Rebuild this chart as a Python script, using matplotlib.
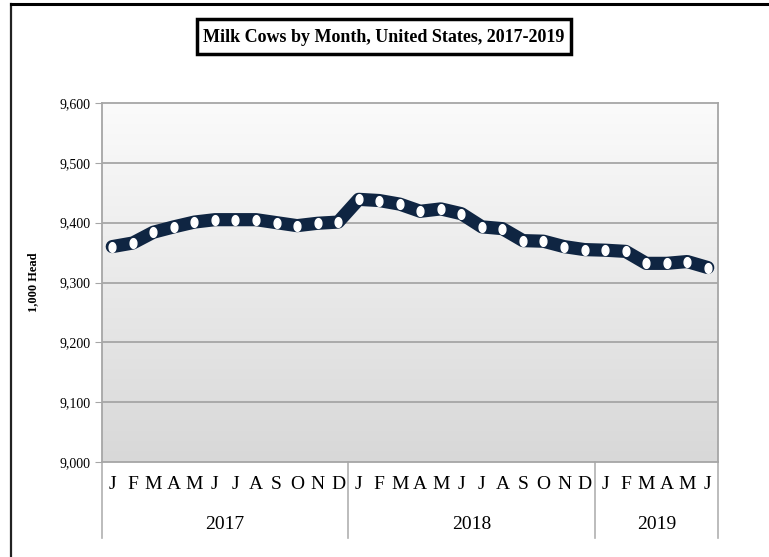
import numpy as np
import matplotlib.pyplot as plt
from matplotlib.lines import Line2D
from matplotlib.patches import Rectangle
import matplotlib.transforms as mtransforms

# dati: vacche da latte, migliaia di capi
months = ['J', 'F', 'M', 'A', 'M', 'J', 'J', 'A', 'S', 'O', 'N', 'D',
          'J', 'F', 'M', 'A', 'M', 'J', 'J', 'A', 'S', 'O', 'N', 'D',
          'J', 'F', 'M', 'A', 'M', 'J']
years = ['2017', '2018', '2019']
year_months = [12, 12, 6]
head = [9360, 9366, 9384, 9393, 9401, 9405, 9405, 9405, 9400, 9395, 9399, 9401,
        9439, 9437, 9431, 9419, 9423, 9415, 9393, 9390, 9370, 9369, 9360, 9355,
        9354, 9352, 9332, 9332, 9335, 9325]
yticks = [9000, 9100, 9200, 9300, 9400, 9500, 9600]

serif = ['Liberation Serif', 'DejaVu Serif']
navy = '#0f2542'
grid_col = '#a6a6a6'

fig = plt.figure(figsize=(7.69, 5.57), dpi=100)
ax = fig.add_axes([102 / 769, 1 - 462 / 557, 616 / 769, 359 / 557])

x = np.arange(len(head))

# sfondo sfumato
grad = np.linspace(0, 1, 256).reshape(-1, 1)
ax.imshow(grad, extent=[0, 1, 0, 1], transform=ax.transAxes, aspect='auto',
          cmap=plt.matplotlib.colors.LinearSegmentedColormap.from_list('g', ['#fbfbfb', '#d8d8d8']),
          zorder=0)

for yv in yticks[1:-1]:
    ax.axhline(yv, color=grid_col, lw=1.3, zorder=1)

# marker ellittico
t = np.linspace(0, 2 * np.pi, 40)
ell = np.column_stack([0.7 * np.cos(t), np.sin(t)])

ax.plot(x, head, color=navy, lw=9.5, solid_joinstyle='round', solid_capstyle='round', zorder=3)
ax.plot(x, head, ls='none', marker=ell, ms=7, mfc='white', mec='white', zorder=4)

ax.set_xlim(-0.5, len(head) - 0.5)
ax.set_ylim(9000, 9600)
ax.set_yticks(yticks)
ax.set_yticklabels([f'{v:,}' for v in yticks], fontfamily=serif, fontsize=10)
ax.tick_params(axis='y', length=5, color=grid_col, pad=3)
ax.set_xticks(x)
ax.set_xticklabels(months, fontfamily=serif, fontsize=14)
ax.tick_params(axis='x', length=0, pad=10)

for s in ax.spines.values():
    s.set_color(grid_col)
    s.set_linewidth(1.3)

ax.set_ylabel('1,000 Head', fontfamily=serif, fontweight='bold', fontsize=9)
ax.yaxis.set_label_coords((39 - 102) / 616, 0.5)

# separatori e anni
trans = mtransforms.blended_transform_factory(ax.transData, ax.transAxes)
edges = np.concatenate([[0], np.cumsum(year_months)]) - 0.5
for e in edges:
    ax.add_line(Line2D([e, e], [0, -0.212], transform=trans, color='#b0b0b0', lw=1.2, clip_on=False))
for i, yr in enumerate(years):
    mid = (edges[i] + edges[i + 1]) / 2
    ax.text(mid, -0.175, yr, transform=trans, ha='center', va='center',
            fontfamily=serif, fontsize=14)

# titolo con riquadro
fig.add_artist(Rectangle((197 / 769, 1 - 54 / 557), 374 / 769, 35 / 557,
                         transform=fig.transFigure, fc='white', ec='black', lw=2.5))
fig.text(384 / 769, 1 - 37 / 557, 'Milk Cows by Month, United States, 2017-2019',
         ha='center', va='center', fontfamily=serif, fontweight='bold', fontsize=13)

# cornice esterna (solo sinistra e alto)
fig.add_artist(Line2D([11 / 769, 11 / 769], [0, 1 - 3.5 / 557], color='#222222', lw=1.6))
fig.add_artist(Line2D([11 / 769, 1], [1 - 3.5 / 557, 1 - 3.5 / 557], color='black', lw=2.2))

fig.savefig('out.png', dpi=100)
